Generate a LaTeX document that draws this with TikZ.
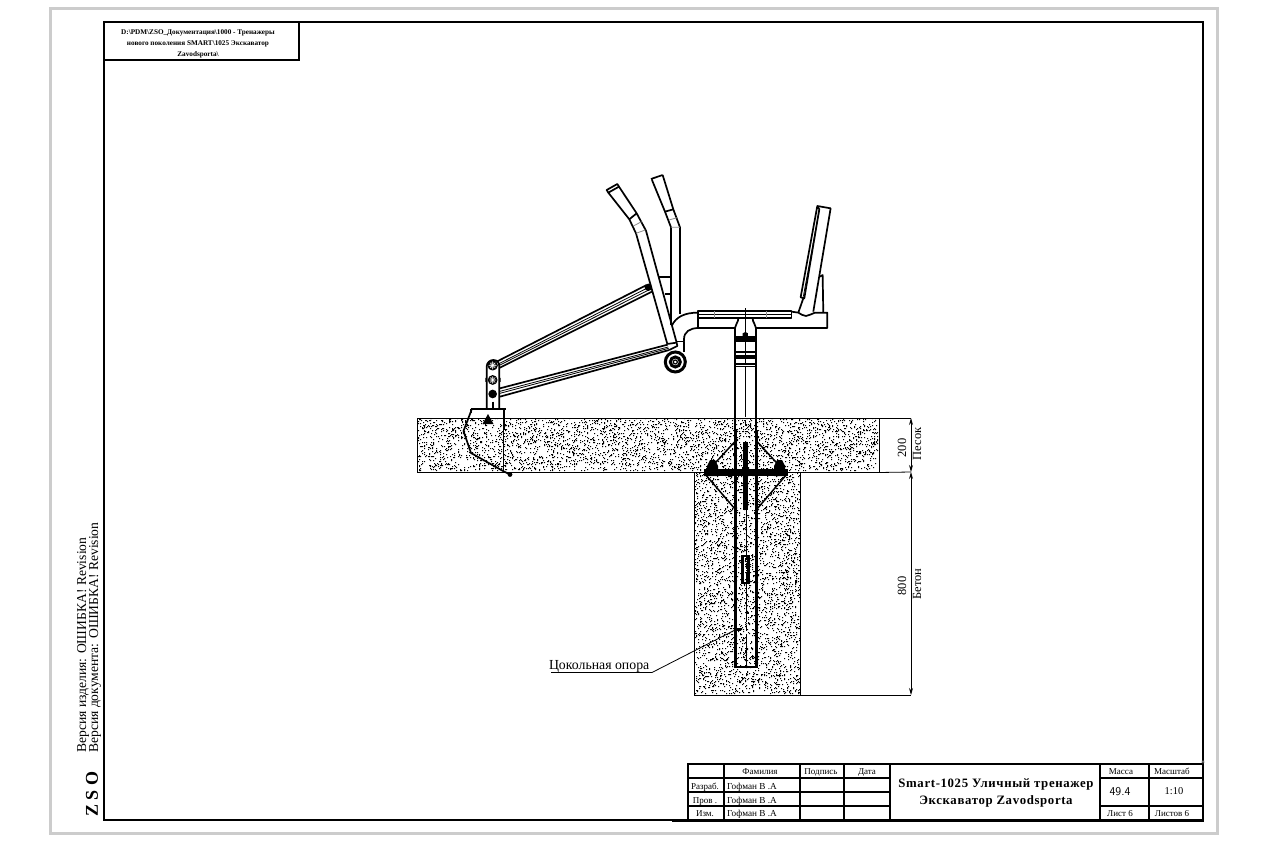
\documentclass[tikz,border=0pt]{standalone}
\usepackage{fontspec}
\setmainfont{Liberation Serif}
\usetikzlibrary{arrows.meta}
\tikzset{
 mk/.style={line width=1.7pt,line join=round},
 polel/.style={line width=2.1pt,line join=miter},
 thn/.style={line width=0.8pt},
 frm/.style={line width=2.6pt},
 tbl/.style={line width=2pt},
 cell/.style={font=\fontsize{9}{10}\selectfont,inner sep=0pt,anchor=base},
 cellw/.style={font=\fontsize{9.2}{10}\selectfont,inner sep=0pt,anchor=base west},
 dimlab/.style={font=\fontsize{12.5}{13}\selectfont,rotate=90,inner sep=0pt},
 dimarr/.style={thn,{Stealth[length=7pt,width=4pt]}-{Stealth[length=7pt,width=4pt]}}
}
\newcommand{\stipple}[5]{%
 \foreach \i in {1,...,#5}{%
  \pgfmathrandominteger\rx{#1}{#3}\pgfmathrandominteger\ry{#2}{#4}%
  \pgfpathrectangle{\pgfqpoint{\rx pt}{-\ry pt}}{\pgfqpoint{1pt}{1pt}}%
 }\pgfusepath{fill}}
\begin{document}
\begin{tikzpicture}[x=1pt,y=-1pt]
\useasboundingbox (0,0) rectangle (1266,842);
\fill[white] (0,0) rectangle (1266,842);
% sheet edges
\draw[line width=3pt,color=black!20] (50,9) rectangle (1217,833);
\draw[frm] (104,22) rectangle (1203,820);
\draw[frm] (104,60) -- (299,60) -- (299,22);
\node[align=center,inner sep=0pt,font=\fontsize{7.2}{11}\selectfont\bfseries] (path) at (198,44)
 {D:\textbackslash PDM\textbackslash ZSO\_Документация\textbackslash 1000 - Тренажеры\\нового поколения SMART\textbackslash 1025 Экскаватор\\Zavodsporta\textbackslash};
% side texts
\node[rotate=90,anchor=west,inner sep=0pt,font=\fontsize{13.6}{14}\selectfont] (ver1) at (83,753) {Версия изделия: ОШИБКА! Revision};
\node[rotate=90,anchor=west,inner sep=0pt,font=\fontsize{13.6}{14}\selectfont] (ver2) at (95,753) {Версия документа: ОШИБКА! Revision};
\node[rotate=90,inner sep=0pt,font=\fontsize{18}{18}\selectfont\bfseries] (zso) at (92,794) {Z S O};
% sand and concrete
\pgfmathsetseed{1025}
\stipple{418}{419}{877}{471}{3500}
\stipple{695}{473}{799}{694}{3300}
\draw[line width=1pt] (417,418) rectangle (879,472.5);
\draw[line width=1pt] (694,472.5) -- (694,695) -- (800,695) -- (800,472.5);
% dimensions
\coordinate (dA) at (911,418);\coordinate (dB) at (911,472);\coordinate (dC) at (911,695);
\draw[thn] (879,418) -- (dA);
\draw[thn] (879,472.5) -- (dB);
\draw[thn] (800,695) -- (dC);
\draw[dimarr] (dA) -- (dB);
\draw[dimarr] (dB) -- (dC);
\node[dimlab] (d200) at (902,448) {200};
\node[dimlab] (sand) at (917,444) {Песок};
\node[dimlab] (d800) at (902,586) {800};
\node[dimlab] (conc) at (917,584) {Бетон};
% machine (zoomed coordinates, 3 units per pixel)
\begin{scope}[shift={(470pt,-170pt)},x=0.3333pt,y=-0.3333pt]
 % handle B
 \draw[mk] (543,27) -- (578,15) (546,30) -- (585,125) -- (603,172) -- (603,465);
 \draw[mk] (578,15) -- (610,118) -- (630,172) -- (630,432);
 \draw[mk] (585,125) -- (610,118);
 \draw[thn,black!45] (597,150) -- (622,143) (603,172) -- (630,172);
 \draw[mk] (567,322) -- (603,322) (585,372) -- (603,372);
 % elbow
 \draw[mk] (605,468) .. controls (618,440) and (645,428) .. (684,428);
 \draw[mk] (642,515) -- (642,508) .. controls (642,485) and (660,475) .. (684,474);
 % lower seat body
 \draw[mk] (684,424) -- (684,474) -- (795,474);
 \draw[mk] (858,474) -- (1072,474) -- (1072,428) -- (1035,428) .. controls (1025,432) and (1018,436) .. (1008,438) .. controls (1000,438) and (992,432) .. (985,428) -- (965,425);
 \draw[mk] (684,424) rectangle (965,445);
 \draw[thn] (684,432) -- (965,432);
 \draw[thn,black!45] (733,424) -- (733,445) (890,424) -- (890,445);
 \draw[line width=.8pt] (826,415) -- (826,580);
 % neck and pole top
 \draw[mk] (805,445) .. controls (805,458) and (796,462) .. (795,474) -- (795,780);
 \draw[mk] (848,445) .. controls (848,458) and (857,462) .. (858,474) -- (858,780);
 \fill (795,498) rectangle (858,516);
 \fill (818,498) -- (818,490) -- (826,486) -- (834,490) -- (834,498) -- cycle;
 \draw[mk] (795,546) -- (858,546) (795,582) -- (858,582);
 \fill (795,555) rectangle (858,567);
 \draw[mk] (795,590) -- (858,590);
 \draw[line width=.8pt,dash pattern=on 50pt off 3pt on 6pt off 3pt] (826,590) -- (826,780);
 % backrest
 \draw[mk] (1042,108) -- (1082,115) -- (1030,425);
 \draw[mk] (1042,108) -- (992,382) -- (1003,385) -- (1048,118) -- cycle;
 \draw[thn] (1047,125) -- (1000,380);
 \draw[mk] (1000,385) -- (985,428);
 \draw[mk] (1050,320) -- (1058,315) -- (1060,428);
 % handle A
 \draw[mk] (410,60) -- (442,42) -- (447,50) -- (415,68) -- cycle;
 \draw[mk] (415,68) -- (478,148) -- (498,190) -- (592,522);
 \draw[mk] (447,50) -- (500,130) -- (528,182) -- (620,518);
 \draw[mk] (478,148) -- (500,130);
 \draw[thn,black!45] (490,168) -- (515,155) (498,190) -- (526,180);
 % rods
 \draw[mk] (82,574) -- (530,345) (88,594) -- (546,365);
 \draw[thn] (85,582) -- (536,352) (86,587) -- (540,358);
 \draw[mk] (90,655) -- (593,524) (90,680) -- (598,540);
 \draw[thn] (90,664) -- (595,531);
 \draw[thn] (90,670) -- (596,535);
 % joint
 \fill (535,352) circle (11);
 % mount under handle and roller
 \draw[mk] (592,522) -- (620,518) -- (622,528) -- (598,540);
 \draw[mk] (620,515) -- (642,515) -- (642,545);
 \draw[line width=3pt,fill=white] (616,576) circle (30);
 \draw[line width=3pt] (616,576) circle (15);
 \draw[line width=1.2pt] (616,576) circle (6);
 % lever
 \draw[mk] (50,720) -- (50,590) .. controls (50,578) and (60,570) .. (70,570) .. controls (82,570) and (88,578) .. (88,590) -- (88,720);
 \draw[mk,fill=black!65] (68,586) circle (13);
 \draw[thin,white] (56,586) -- (80,586) (68,574) -- (68,598) (60,578) -- (76,594) (60,594) -- (76,578);
 \draw[mk,fill=black!65] (68,630) circle (12);
 \draw[thin,white] (57,630) -- (79,630) (68,619) -- (68,641) (60,622) -- (76,638) (60,638) -- (76,622);
 \fill (68,672) circle (13);
 \fill (46,624) rectangle (50,636) (88,624) rectangle (92,636);
 \draw[mk] (68,695) -- (68,720);
 % footing
 \draw[mk] (2,718) -- (107,718);
 \draw[mk] (102,718) -- (102,780);
 \draw[mk] (2,730) -- (2,718);
\end{scope}
% footing in the sand
\draw[mk] (471.5,410) -- (463.5,431) -- (471,453) -- (503,471) -- (510,474.5);
\draw[mk] (503.5,410) -- (503.5,471);
\fill (488,414) -- (482.5,424) -- (493.5,424) -- cycle;
\fill (510,474.5) circle (2.4);
% pole below ground
\draw[polel] (735.5,430) -- (735.5,667) -- (756.5,667) -- (756.5,430);
\draw[line width=.8pt,dash pattern=on 50pt off 3pt on 6pt off 3pt] (746,510) -- (746,667);
\draw[polel] (742.5,556) rectangle (748.5,583);
% anchor
\draw[line width=1.5pt] (735,441.5) -- (705,474) -- (735,509);
\draw[line width=1.5pt] (757,441.5) -- (787,474) -- (757,509);
\fill (743,442) rectangle (747.5,510);
\fill (704,469) rectangle (788,476);
\fill (707,476) -- (707,466) -- (710,460) -- (715,460) -- (718,466) -- (718,476) -- cycle;
\fill (774,476) -- (774,466) -- (777,460) -- (782,460) -- (785,466) -- (785,476) -- cycle;
% leader
\node[anchor=base west,inner sep=0pt,font=\fontsize{13.8}{14}\selectfont] (lab) at (549,669.5) {Цокольная опора};
\coordinate (lA) at (551,672.5);\coordinate (lB) at (652,672.5);\coordinate (lC) at (735,630);
\draw[thn] (lA) -- (lB) -- (lC);
\fill (737,628) rectangle (741,630.5);
\fill (746,612) rectangle (749,613.5);
% title block
\fill[white] (688,764) rectangle (1203,820);
\draw[tbl] (688,820) -- (688,764) -- (1203,764);
\draw[tbl] (688,778) -- (890,778) (688,792) -- (890,792) (688,806) -- (890,806);
\draw[tbl] (724,764) -- (724,820) (800,764) -- (800,820) (844,764) -- (844,820) (890,764) -- (890,820) (1100,764) -- (1100,820) (1149,764) -- (1149,820);
\draw[tbl] (1100,778) -- (1203,778) (1100,806) -- (1203,806);
\draw[frm] (672,820.5) -- (1203,820.5) -- (1203,764);
\node[cell] (h1) at (760,774.5) {Фамилия};
\node[cell] (h2) at (821,774.5) {Подпись};
\node[cell] (h3) at (867,774.5) {Дата};
\node[cell] (r1) at (705,789) {Разраб.};
\node[cell] (r2) at (705,803) {Пров .};
\node[cell] (r3) at (705,816.5) {Изм.};
\node[cellw] (n1) at (727,789) {Гофман В .А};
\node[cellw] (n2) at (727,803) {Гофман В .А};
\node[cellw] (n3) at (727,816.5) {Гофман В .А};
\node[inner sep=0pt,align=center,font=\fontsize{12.8}{17}\selectfont\bfseries\addfontfeatures{LetterSpace=5}] (title) at (996,793) {Smart-1025 Уличный тренажер\\Экскаватор Zavodsporta};
\node[cell] (m) at (1121,774.5) {Масса};
\node[cell] (s) at (1172,774.5) {Масштаб};
\node[inner sep=0pt,font=\fontsize{12}{12}\selectfont\sffamily] (mv) at (1120,792) {49.4};
\node[cell,font=\fontsize{10.5}{11}\selectfont] (sv) at (1174,794) {1:10};
\node[cell] (l1) at (1120,816.5) {Лист 6};
\node[cell] (l2) at (1172,816.5) {Листов 6};
\node[inner sep=0pt,text=black!35,font=\fontsize{9}{9}\selectfont] (star) at (1203,764) {*};
\end{tikzpicture}
\end{document}
